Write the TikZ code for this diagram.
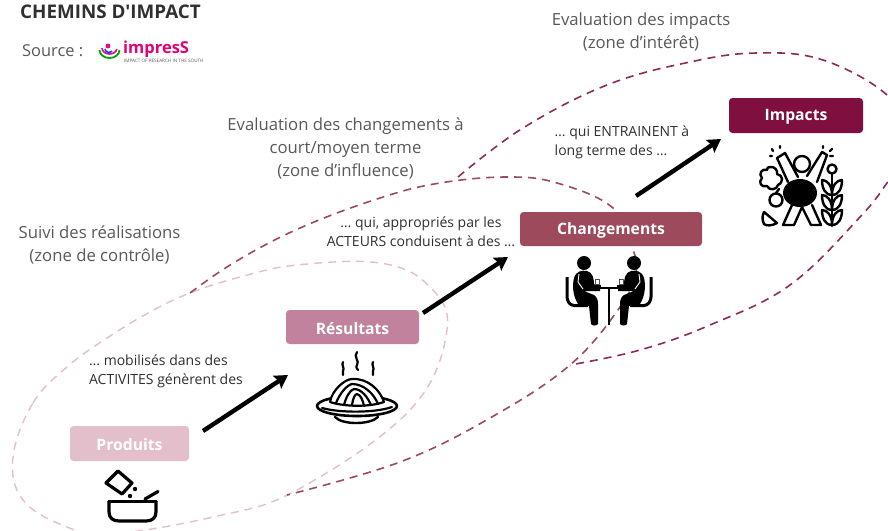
\documentclass[tikz,border=0pt]{standalone}
\usepackage{fontspec}
\setmainfont{Open Sans}
\newfontfamily\plainfam{Open Sans}
\usetikzlibrary{arrows.meta}
\definecolor{cP}{HTML}{E2BFCB}
\definecolor{cR}{HTML}{C0829C}
\definecolor{cC}{HTML}{9C4A5C}
\definecolor{cI}{HTML}{7E0F3F}
\definecolor{txt}{HTML}{595959}
\definecolor{dk}{HTML}{303030}
\tikzset{
 x=1pt,y=-1pt,
 box/.style={text=white,font=\fontsize{15.7}{18}\selectfont\bfseries,inner sep=0pt,anchor=center},
 zone/.style={text=txt,font=\fontsize{16.7}{23}\selectfont,align=center,inner sep=0pt},
 note/.style={text=dk,font=\fontsize{14}{19.2}\selectfont,align=left,inner sep=0pt},
 flow/.style={black,line width=4.4pt,-{Triangle[length=13pt,width=15pt,inset=2pt]}},
 zd/.style={line width=1.6pt,dash pattern=on 8pt off 6pt},
 ico/.style={black,line width=2.4pt,line cap=round,line join=round},
}
\begin{document}
\begin{tikzpicture}
\useasboundingbox (0,0) rectangle (888,530);
\fill[white] (0,0) rectangle (888,530);
\begin{scope}
\clip (0,0) rectangle (888,530);
% zones
\draw[zd,cP,line width=1.4pt] plot[smooth cycle,tension=0.65] coordinates {(13,457) (33,403) (67,367) (107,338) (150,312) (190,293) (240,277) (297,265) (380,263) (428,285) (447,330) (410,410) (297,490) (213,517) (110,534) (67,527) (23,500)};
\draw[zd,cC] plot[smooth,tension=0.65] coordinates {(190,293) (235,262) (300,228) (380,198) (440,183) (507,177) (557,183) (613,208) (633,250) (636,272) (620,307) (570,365) (490,418) (400,462) (287,495)};
\draw[zd,cI!88] plot[smooth,tension=0.65] coordinates {(458,177) (523,128) (607,85) (690,62) (757,53) (823,60) (887,95) (900,130)};
\draw[zd,cI!88] plot[smooth,tension=0.65] coordinates {(895,170) (887,183) (860,217) (790,285) (710,325) (640,350) (570,365)};
\end{scope}
% boxes
\fill[cP,rounded corners=3.5pt] (70,426) rectangle (189,461);
\node[box] (prod) at (129.5,445) {Produits};
\fill[cR,rounded corners=3.5pt] (286,310) rectangle (419,344);
\node[box] (res) at (352.5,328.5) {Résultats};
\fill[cC,rounded corners=3.5pt] (520,212) rectangle (702,246);
\node[box] (chg) at (611,230.5) {Changements};
\fill[cI,rounded corners=3.5pt] (729,98) rectangle (863,133);
\node[box] (imp) at (796,117) {Impacts};
% arrows
\coordinate (a1) at (203,431); \coordinate (a2) at (288,375);
\coordinate (b1) at (423,313); \coordinate (b2) at (508,257);
\coordinate (c1) at (636,196); \coordinate (c2) at (721,139);
\draw[flow] (a1) -- (a2);
\draw[flow] (b1) -- (b2);
\draw[flow] (c1) -- (c2);
% texts
\node[anchor=west,inner sep=0pt,text=dk,font=\plainfam\fontsize{18.8}{22}\selectfont\bfseries] (title) at (20,11.5) {CHEMINS D'IMPACT};
\node[anchor=west,inner sep=0pt,text=txt,font=\fontsize{16.4}{20}\selectfont] (src) at (22,50.5) {Source :};
\node[anchor=west,inner sep=0pt,text={rgb,255:red,226;green,0;blue,122},font=\fontsize{16.5}{18}\selectfont\bfseries] (logo) at (123,49) {impresS};
\node[anchor=west,inner sep=0pt,text=txt,font=\fontsize{4.6}{5}\selectfont] (logot) at (124,60.5) {IMPACT OF RESEARCH IN THE SOUTH};
\draw[line width=1.8pt,green!65!black] (99.5,50) arc[start angle=180,end angle=360,x radius=10,y radius=-8];
\draw[line width=1.6pt,magenta] (102,48) arc[start angle=180,end angle=350,x radius=7.5,y radius=-6];
\draw[line width=1.6pt,blue!70!cyan] (105,49) arc[start angle=180,end angle=320,x radius=4,y radius=-3.5];
\fill[magenta] (108,46) circle (2.4);
\node[zone] (z1) at (99.5,245) {Suivi des réalisations\\(zone de contrôle)};
\node[zone] (z2) at (345.5,148) {Evaluation des changements à\\court/moyen terme\\(zone d’influence)};
\node[zone] (z3) at (641,32) {Evaluation des impacts\\(zone d’intérêt)};
\node[note] (n1) at (166,371.5) {… mobilisés dans des\\ACTIVITES génèrent des};
\node[note,align=center] (n2) at (421,231.5) {… qui, appropriés par les\\ACTEURS conduisent à des …};
\node[note] (n3) at (622,142.5) {… qui ENTRAINENT à\\long terme des …};
% icon: produits
\begin{scope}[ico,line width=3.2pt]
\draw (106,483) -- (118,471) -- (132,483) -- (122,494) -- cycle;
\fill (135,489) circle (2.2); \fill (130,496) circle (2.2);
\draw (109,501.5) -- (156,501.5);
\draw (109,501.5) -- (109,512) .. controls (109,518) and (113,521) .. (119,521) -- (146,521) .. controls (152,521) and (156,518) .. (156,512) -- (156,501.5);
\draw (145,499) -- (158,491.5);
\end{scope}
% icon: resultats
\begin{scope}[ico,line width=2.2pt]
\draw (343,362) .. controls (341,365) and (345,368) .. (343,371) .. controls (342,373) and (344,374) .. (343,375);
\draw (357,352) .. controls (353,357) and (360,361) .. (357,365) .. controls (355,368) and (358,369) .. (358,370);
\draw (373,362) .. controls (371,365) and (375,368) .. (373,371) .. controls (372,373) and (374,374) .. (373,375);
\draw[line width=2.6pt] (357,406) ellipse (40 and 10);
\draw[fill=white,line width=2.2pt] (330,402) .. controls (332,390) and (345,379) .. (352,379) .. controls (368,378) and (380,390) .. (384,402) .. controls (370,407) and (345,407) .. (330,402) -- cycle;
\draw (336,403) .. controls (340,393) and (347,385) .. (352,384) .. controls (364,384) and (374,394) .. (378,404);
\draw (344,405) .. controls (346,397) and (350,390) .. (354,389) .. controls (362,389) and (368,398) .. (371,405);
\draw (352,405) .. controls (353,398) and (355,394) .. (357,394) .. controls (361,395) and (363,401) .. (364,406);
\draw (322,408) .. controls (340,413) and (375,413) .. (392,407);
\draw[line width=2.4pt] (335,417) .. controls (342,425) and (370,425) .. (378,417);
\end{scope}
% icon: changements
\begin{scope}[black,line join=round]
\fill (584,263) circle (7); \fill (634,263) circle (7);
\fill (574,278) .. controls (576,271) and (582,270) .. (587,271) .. controls (593,272) and (594,280) .. (594,284) -- (600,288) -- (600,291) -- (584,291) -- (594,295) .. controls (597,297) and (598,300) .. (598,304) -- (598,324) .. controls (597,326) and (592,326) .. (591,324) -- (589,306) -- (578,304) .. controls (573,296) and (572,286) .. (574,278) -- cycle;
\fill (644,278) .. controls (642,271) and (636,270) .. (631,271) .. controls (625,272) and (624,280) .. (624,284) -- (618,288) -- (618,291) -- (634,291) -- (624,295) .. controls (621,297) and (620,300) .. (620,304) -- (620,324) .. controls (621,326) and (626,326) .. (627,324) -- (629,306) -- (640,304) .. controls (645,296) and (646,286) .. (644,278) -- cycle;
\draw[white,line width=.9pt] (579,274) -- (578,282) -- (583,289) (639,274) -- (640,282) -- (635,289);
\draw[line width=3pt,rounded corners=3pt] (567,277) -- (567,300) -- (571,305.5) -- (588,305.5);
\draw[line width=3pt,rounded corners=3pt] (651,277) -- (651,300) -- (647,305.5) -- (630,305.5);
\draw[line width=1.8pt] (587,288) -- (631,288);
\draw[line width=2.6pt] (609,288) -- (609,325);
\draw[line width=1.2pt] (592,286) -- (601,286) (617,286) -- (626,286);
\draw[line width=.7pt,black!70] (595,279) rectangle (599,284) (619,279) rectangle (623,284);
\end{scope}
% icon: impacts
\begin{scope}[ico]
\fill[black] (800,193) ellipse (17 and 14);
\draw (788,182) -- (777,158) -- (785,153) -- (798,177);
\draw (817,182) -- (827,155) -- (822,152) -- (807,176);
\draw (802,164) circle (8);
\draw (792,205) -- (783,225) -- (794,225) -- (802,207) -- (811,225) -- (821,225) -- (812,205);
\draw (772,149) -- (773,151) (780,146) -- (780,148) (770,156) -- (772,156);
\draw (823,146) -- (823,148) (832,149) -- (830,151) (833,156) -- (830,156);
\draw (770,167) .. controls (775,166) and (778,171) .. (777,174) .. controls (783,175) and (784,182) .. (778,185) .. controls (777,190) and (769,191) .. (767,186) .. controls (761,188) and (758,182) .. (762,178) .. controls (758,174) and (762,168) .. (767,170) .. controls (767,168) and (768,167) .. (770,167) -- cycle;
\draw (776,200) circle (6.5); \draw (776,193) -- (779,189);
\draw (764,212) -- (777,223) .. controls (772,226) and (766,226) .. (764,224) .. controls (762,220) and (762,216) .. (764,212) -- cycle;
\draw (832,169) circle (4.5);
\draw (832,174) -- (832,226);
\foreach \yy in {0,15,30} {
\draw (832,195+\yy) .. controls (825,195+\yy) and (822,188+\yy) .. (822,180+\yy) .. controls (827,180+\yy) and (832,185+\yy) .. (832,195+\yy) .. controls (832,185+\yy) and (837,180+\yy) .. (842,180+\yy) .. controls (842,188+\yy) and (839,195+\yy) .. (832,195+\yy);
}
\end{scope}
\end{tikzpicture}
\end{document}
